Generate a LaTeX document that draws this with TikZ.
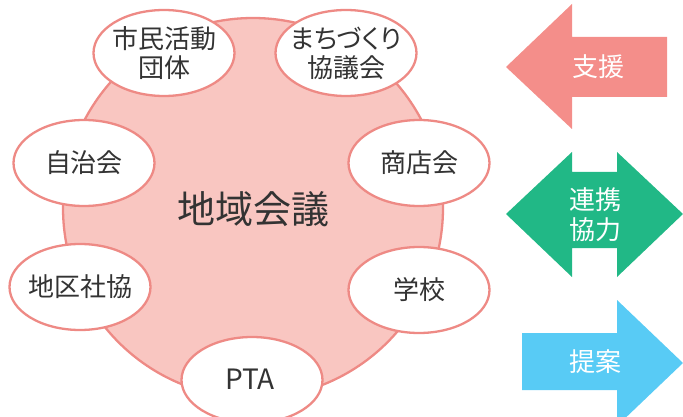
\documentclass[tikz,border=0pt]{standalone}
\usepackage{fontspec}
\setmainfont{Noto Sans CJK JP}
\newfontfamily\kanafont[RawFeature=+palt]{Noto Sans CJK JP}
\usetikzlibrary{shapes.geometric}
\definecolor{ringline}{HTML}{EE8A85}
\definecolor{ringfill}{HTML}{F9C6C1}
\definecolor{txt}{HTML}{333333}
\definecolor{apink}{HTML}{F48E8A}
\definecolor{agreen}{HTML}{21B886}
\definecolor{ablue}{HTML}{58CBF5}
\begin{document}
\begin{tikzpicture}[x=1pt,y=-1pt,
  member/.style={ellipse,draw=ringline,line width=2.3pt,fill=white,minimum width=141pt,minimum height=86pt,inner sep=0pt},
  memtext/.style={font=\fontsize{26}{29}\selectfont,text=txt,align=center,inner sep=0pt},
  arrlabel/.style={text=white,font=\fontsize{26}{30}\selectfont,align=center}]
\useasboundingbox (0,0) rectangle (683,417);
\node[circle,draw=ringline,line width=2.3pt,fill=ringfill,minimum size=380pt,inner sep=0pt] (hub) at (253,208) {};
\node[text=txt,font=\fontsize{38}{40}\selectfont] (title) at (253,209) {地域会議};
\node[member] (m1) at (164,53) {};
\node[memtext] (t1) at (m1) {市民活動\\団体};
\node[member] (m2) at (346,53) {};
\node[memtext] (t2) at (m2) {{\kanafont まちづくり}\\協議会};
\node[member] (m3) at (84,163) {};
\node[memtext] (t3) at (m3) {自治会};
\node[member] (m4) at (419,163) {};
\node[memtext] (t4) at (m4) {商店会};
\node[member] (m5) at (80,287) {};
\node[memtext] (t5) at (m5) {地区社協};
\node[member] (m6) at (419,290) {};
\node[memtext] (t6) at (m6) {学校};
\node[member] (m7) at (252,380) {};
\node[memtext,font=\fontsize{28}{30}\selectfont] (t7) at (250,379) {PTA};
% arrows
\fill[apink] (506,67) -- (572,4) -- (572,37) -- (667,37) -- (667,97) -- (572,97) -- (572,129) -- cycle;
\node[arrlabel] (a1) at (598,67) {支援};
\fill[agreen] (506,214) -- (572,152) -- (572,172) -- (617,172) -- (617,152) -- (683,214) -- (617,277) -- (617,248) -- (572,248) -- (572,277) -- cycle;
\node[arrlabel] (a2) at (595,215) {連携\\協力};
\fill[ablue] (522,333) -- (617,333) -- (617,300) -- (683,363) -- (617,426) -- (617,390) -- (522,390) -- cycle;
\node[arrlabel] (a3) at (595,362) {提案};
\end{tikzpicture}
\end{document}
